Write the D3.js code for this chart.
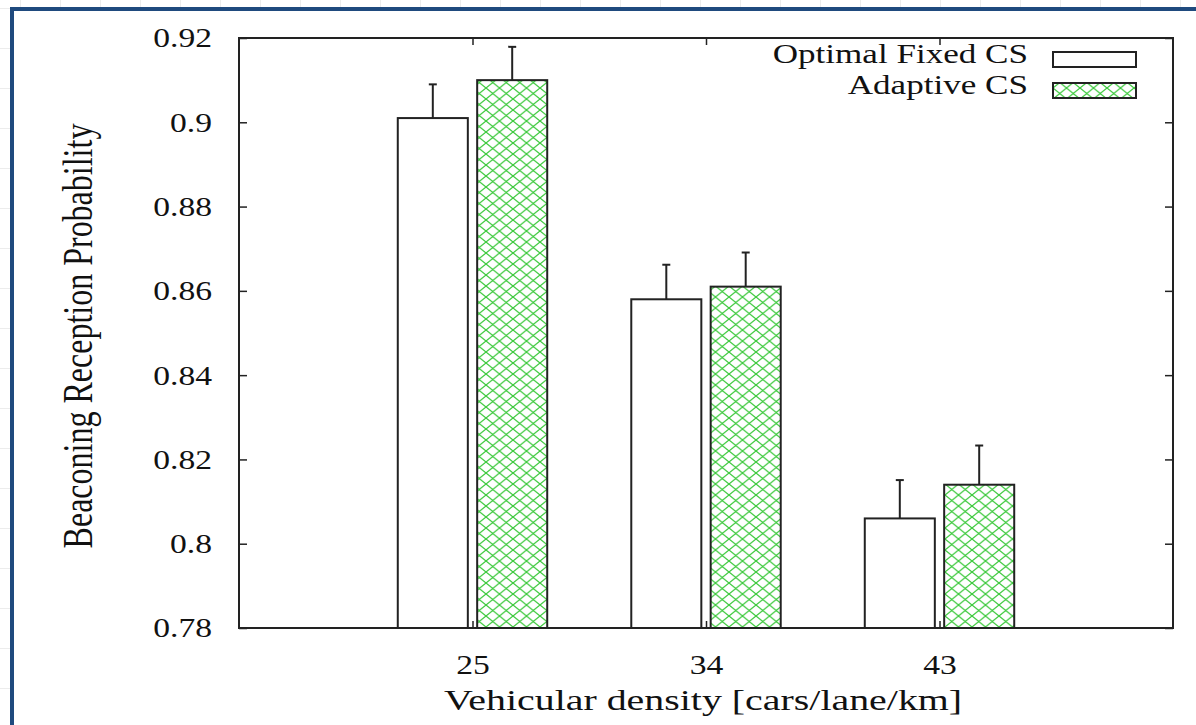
<!DOCTYPE html>
<html>
<head>
<meta charset="utf-8">
<script src="https://cdn.jsdelivr.net/npm/d3@7"></script>
<style>
  html, body { margin: 0; padding: 0; background: #fff; }
  svg { display: block; }
</style>
</head>
<body>
<div id="chart"></div>
<script>
// data
const categories = ["25", "34", "43"];
const seriesNames = ["Optimal Fixed CS", "Adaptive CS"];
const fixedValues = [0.901, 0.858, 0.806];
const fixedErrors = [0.008, 0.0082, 0.0091];
const adaptiveValues = [0.910, 0.861, 0.814];
const adaptiveErrors = [0.0079, 0.0081, 0.0093];
const yTicks = [0.78, 0.8, 0.82, 0.84, 0.86, 0.88, 0.9, 0.92];
const yTickLabels = ["0.78", "0.8", "0.82", "0.84", "0.86", "0.88", "0.9", "0.92"];

const width = 1196, height = 725;
const margin = { left: 239, right: 1196 - 1173, top: 38, bottom: 725 - 628 };
const font = "'Liberation Serif', 'Times New Roman', serif";
const green = "#38c838";

const svg = d3.select("#chart").append("svg")
    .attr("width", width).attr("height", height);

// faint sheet grid behind the frame
const bg = svg.append("g").attr("stroke", "#ececec").attr("stroke-width", 1);
d3.range(20.5, width, 40).forEach(gx => bg.append("line").attr("x1", gx).attr("x2", gx).attr("y1", 0).attr("y2", height));
d3.range(8.5, height, 40).forEach(gy => bg.append("line").attr("y1", gy).attr("y2", gy).attr("x1", 0).attr("x2", width));

// blue frame
svg.append("rect")
    .attr("x", 12).attr("y", 9).attr("width", 1300).attr("height", 800)
    .attr("fill", "#fff").attr("stroke", "#1f4a7e").attr("stroke-width", 4);

// hatch pattern for the adaptive bars
const pw = 13.5, ph = 11;
const defs = svg.append("defs");
const pat = defs.append("pattern").attr("id", "hatch")
    .attr("patternUnits", "userSpaceOnUse").attr("width", pw).attr("height", ph);
pat.append("rect").attr("width", pw).attr("height", ph).attr("fill", "#fff");
pat.append("path")
    .attr("d", `M-1,${-ph / pw}L${pw + 1},${ph + ph / pw}M-1,${ph + ph / pw}L${pw + 1},${-ph / pw}`)
    .attr("stroke", green).attr("stroke-width", 1.2).attr("fill", "none");

const x = d3.scaleLinear().domain([-1, 3]).range([margin.left, width - margin.right]);
const y = d3.scaleLinear().domain([0.78, 0.92]).range([height - margin.bottom, margin.top]);

const series = [
    { name: seriesNames[0], values: fixedValues, errors: fixedErrors, fill: "#fff", offset: -0.17 },
    { name: seriesNames[1], values: adaptiveValues, errors: adaptiveErrors, fill: "url(#hatch)", offset: 0.17 }
];
const barW = 0.30;

// error bars first, bars on top hide the lower half
series.forEach(s => {
    const g = svg.append("g").attr("stroke", "#222").attr("stroke-width", 2);
    s.values.forEach((v, i) => {
        const cx = x(i + s.offset);
        g.append("line").attr("x1", cx).attr("x2", cx)
            .attr("y1", y(v - s.errors[i])).attr("y2", y(v + s.errors[i]));
        g.append("line").attr("x1", cx - 4).attr("x2", cx + 4)
            .attr("y1", y(v + s.errors[i])).attr("y2", y(v + s.errors[i]));
    });
    svg.append("g").selectAll("rect")
        .data(s.values)
        .enter().append("rect")
        .attr("x", (d, i) => x(i + s.offset - barW / 2))
        .attr("width", x(barW) - x(0))
        .attr("y", d => y(d))
        .attr("height", d => y(0.78) - y(d))
        .attr("fill", s.fill)
        .attr("stroke", "#222").attr("stroke-width", 2);
});

// axes
function styleTicks(g) {
    g.select(".domain").remove();
    g.selectAll("line").attr("stroke", "#222").attr("stroke-width", 1.5);
}

svg.append("g")
    .attr("transform", `translate(${margin.left},0)`)
    .call(d3.axisLeft(y).tickValues(yTicks).tickSize(-8).tickPadding(27)
        .tickFormat((d, i) => yTickLabels[i]))
    .call(styleTicks)
    .call(g => g.selectAll("text")
        .style("font-family", font).attr("font-size", 28).attr("fill", "#111")
        .attr("x", 0).attr("transform", "translate(-27,0) scale(1.2,1)"));

svg.append("g")
    .attr("transform", `translate(${width - margin.right},0)`)
    .call(d3.axisRight(y).tickValues(yTicks).tickSize(-8).tickFormat(""))
    .call(styleTicks);

svg.append("g")
    .attr("transform", `translate(0,${height - margin.bottom})`)
    .call(d3.axisBottom(x).tickValues([0, 1, 2]).tickSize(-7).tickPadding(26)
        .tickFormat((d, i) => categories[i]))
    .call(styleTicks)
    .call(g => g.selectAll("text")
        .style("font-family", font).attr("font-size", 28).attr("fill", "#111")
        .attr("transform", "scale(1.2,1)"));

svg.append("g")
    .attr("transform", `translate(0,${margin.top})`)
    .call(d3.axisTop(x).tickValues([0, 1, 2]).tickSize(-7).tickFormat(""))
    .call(styleTicks);

// plot border
svg.append("rect")
    .attr("x", margin.left).attr("y", margin.top)
    .attr("width", width - margin.right - margin.left)
    .attr("height", height - margin.bottom - margin.top)
    .attr("fill", "none").attr("stroke", "#222").attr("stroke-width", 2);

// axis titles
svg.append("text")
    .attr("transform", "translate(703,710) scale(1.33,1)")
    .attr("text-anchor", "middle")
    .style("font-family", font).attr("font-size", 30).attr("fill", "#111")
    .text("Vehicular density [cars/lane/km]");

svg.append("text")
    .attr("transform", "translate(92,336) scale(1.3,1) rotate(-90)")
    .attr("text-anchor", "middle")
    .style("font-family", font).attr("font-size", 32).attr("fill", "#111")
    .text("Beaconing Reception Probability");

// legend
const legend = svg.append("g");
series.forEach((s, i) => {
    const base = 63 + i * 31;
    legend.append("text")
        .attr("transform", `translate(1028,${base}) scale(1.3,1)`)
        .attr("text-anchor", "end")
        .style("font-family", font).attr("font-size", 27).attr("fill", "#111")
        .text(s.name);
    legend.append("rect")
        .attr("x", 1053).attr("y", base - 11).attr("width", 83).attr("height", 15)
        .attr("fill", s.fill).attr("stroke", "#222").attr("stroke-width", 2);
});
</script>
</body>
</html>
